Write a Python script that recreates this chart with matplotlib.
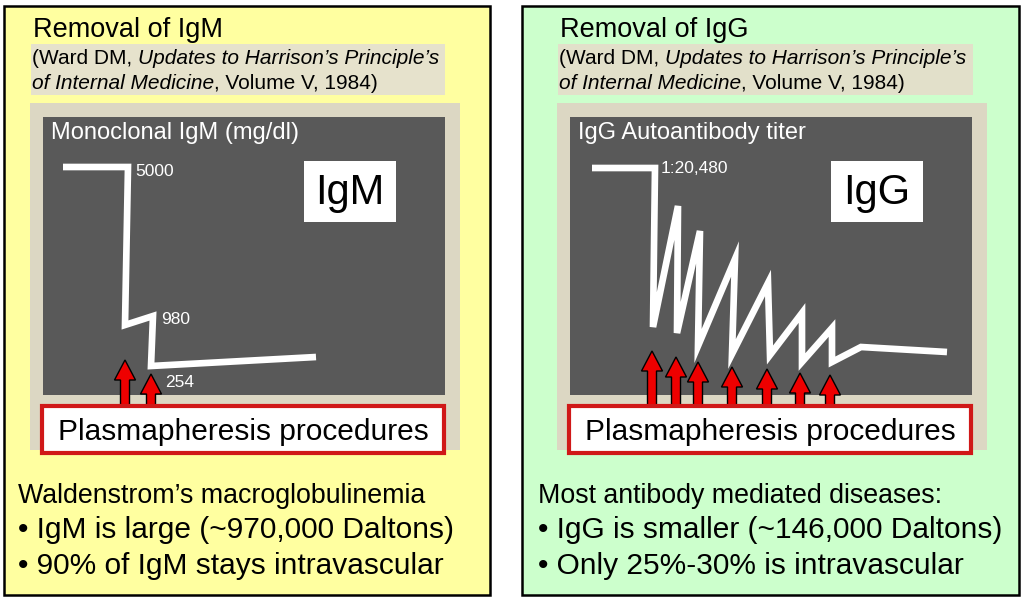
import numpy as np
import matplotlib.pyplot as plt
from matplotlib.patches import Rectangle, FancyArrow

plt.rcParams['font.family'] = ['Liberation Sans', 'DejaVu Sans']

# IgM curve (time, level), chart units
igm_t = [20, 85, 82, 110, 108, 273]
igm_v = [228, 228, 70, 79, 29, 38]
igm_labels = ["5000", "980", "254"]
igm_label_idx = [1, 3, 4]
igm_label_off = [(7, -9), (8, -8), (14, -21)]
igm_arrow_t = [82, 108]
igm_arrow_top = [35, 21]

# IgG curve
igg_t = [22, 85, 83, 108, 107, 130, 128, 165, 162, 198, 200, 232, 232, 262, 262, 291, 377]
igg_v = [227, 227, 68, 189, 62, 164, 49, 136, 41, 112, 40, 82, 33, 67, 33, 48, 43]
igg_labels = ["1:20,480"]
igg_label_idx = [1]
igg_label_off = [(6, -5)]
igg_arrow_t = [82, 106, 128, 162, 197, 230, 260]
igg_arrow_top = [44, 38, 33, 28, 26, 22, 20]

fig = plt.figure(figsize=(10.24, 6.03), dpi=100)
fig.patch.set_facecolor('white')

def px_axes(z):
    ax = fig.add_axes([0, 0, 1, 1])
    ax.set_xlim(0, 1024)
    ax.set_ylim(603, 0)
    ax.axis('off')
    ax.set_zorder(z)
    ax.patch.set_alpha(0)
    return ax

base = px_axes(0)
top = px_axes(3)

def panel(x0, x1, fill, cite_bg, title, cite_x1, ctitle, heading, bullets, t, v, labels, lidx, loff, at, atop):
    # panel background
    base.add_patch(Rectangle((x0, 6), x1 - x0, 589, fc=fill, ec='black', lw=1.8))
    tx = x0 + 29 if x0 < 100 else x0 + 38
    base.text(tx, 37, title, fontsize=19.5, va='baseline', ha='left')
    # citation
    cx = tx - 1
    base.add_patch(Rectangle((cx - 1, 44), cite_x1 - cx, 51, fc=cite_bg, ec='none'))
    a = base.text(cx, 64, "(Ward DM, ", fontsize=15, va='baseline')
    base.annotate("Updates to Harrison’s Principle’s", xy=(1, 0), xycoords=a,
                  fontsize=15, style='italic', va='bottom', ha='left')
    b = base.text(cx, 89, "of Internal Medicine", fontsize=15, style='italic', va='baseline')
    base.annotate(", Volume V, 1984)", xy=(1, 0), xycoords=b, fontsize=15, va='bottom', ha='left')
    # frame
    fx = cx - 2
    base.add_patch(Rectangle((fx, 103), 430, 347, fc='#DCD7C3', ec='none'))
    # chart
    dx = fx + 13
    ax = fig.add_axes([dx / 1024, (603 - 395) / 603, 402 / 1024, 278 / 603])
    ax.set_zorder(1)
    ax.set_facecolor('#595959')
    ax.set_xlim(0, 402)
    ax.set_ylim(0, 278)
    ax.set_xticks([])
    ax.set_yticks([])
    for s in ax.spines.values():
        s.set_visible(False)
    ax.plot(t, v, color='white', lw=4.8, solid_joinstyle='miter', solid_capstyle='butt')
    for lab, i, off in zip(labels, lidx, loff):
        ax.annotate(lab, xy=(t[i], v[i]), xytext=off, textcoords='offset pixels',
                    color='white', fontsize=12.5, va='baseline', ha='left')
    for xa, ya in zip(at, atop):
        ax.add_patch(FancyArrow(xa, -14, 0, ya + 14, width=9, head_width=21, head_length=20,
                                length_includes_head=True, fc='#EE0000', ec='black', lw=1,
                                clip_on=False))
    ax.text(8, 278 - 22, ctitle, color='white', fontsize=17, va='baseline', ha='left')
    # IgX label box
    bx = dx + 261
    top.add_patch(Rectangle((bx, 161), 92, 61, fc='white', ec='none'))
    top.text(bx + 46, 193, title.split()[-1], fontsize=30, ha='center', va='center')
    # procedures box
    top.add_patch(Rectangle((dx - 1, 406), 402, 47, fc='white', ec='#D01818', lw=3))
    top.text(dx + 200, 440, "Plasmapheresis procedures", fontsize=21.5, ha='center', va='baseline')
    # bottom text
    bx0 = x0 + 14 if x0 < 100 else x0 + 16
    base.text(bx0, 503, heading, fontsize=19.3, va='baseline')
    base.text(bx0, 538, bullets[0], fontsize=21.5, va='baseline')
    base.text(bx0, 574, bullets[1], fontsize=21.5, va='baseline')

panel(4, 490, '#FFFFA0', '#E6E2CC', "Removal of IgM", 446, "Monoclonal IgM (mg/dl)",
      "Waldenstrom’s macroglobulinemia",
      ["• IgM is large (~970,000 Daltons)", "• 90% of IgM stays intravascular"],
      igm_t, igm_v, igm_labels, igm_label_idx, igm_label_off, igm_arrow_t, igm_arrow_top)
panel(522, 1019, '#CCFFCC', '#E2E0CA', "Removal of IgG", 974, "IgG Autoantibody titer",
      "Most antibody mediated diseases:",
      ["• IgG is smaller (~146,000 Daltons)", "• Only 25%-30% is intravascular"],
      igg_t, igg_v, igg_labels, igg_label_idx, igg_label_off, igg_arrow_t, igg_arrow_top)

fig.savefig('out.png', dpi=100)
